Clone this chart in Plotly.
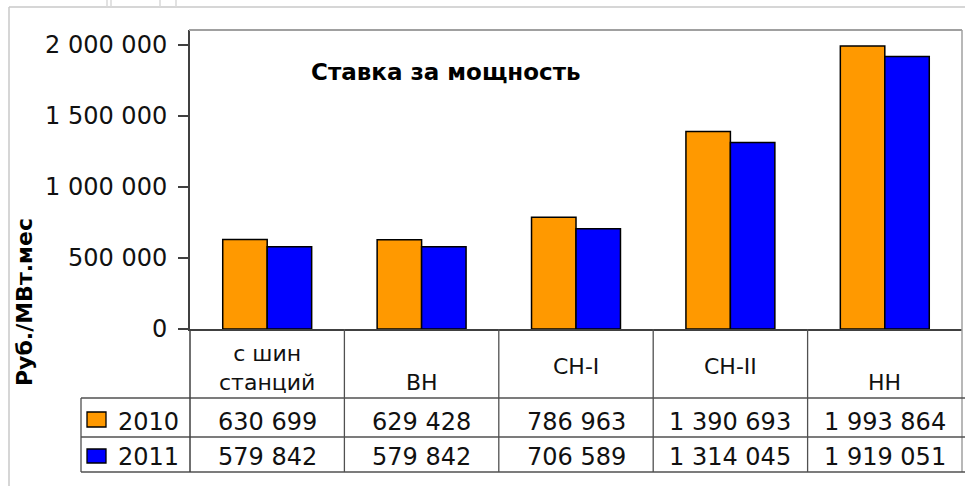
import plotly.graph_objects as go

# ---- data ----
categories = ["с шин<br>станций", "ВН", "СН-I", "СН-II", "НН"]
series_names = ["2010", "2011"]
values_2010 = [630699, 629428, 786963, 1390693, 1993864]
values_2011 = [579842, 579842, 706589, 1314045, 1919051]
y_tick_values = [0, 500000, 1000000, 1500000, 2000000]
chart_title = "Ставка за мощность"
y_title = "Руб./МВт.мес"

# ---- style / layout ----
W, H = 965, 486
colors = ["#FF9900", "#0000FF"]
FONT = "DejaVu Sans"
header_y = [368, 382, 366, 366, 382]   # vertical placement of header labels (px)


def px(x):
    return x / W


def py(y):
    return 1 - y / H


def fmt(v):
    return f"{v:,}".replace(",", " ")


x_idx = list(range(len(categories)))

fig = go.Figure()
for name, vals, col in zip(series_names, [values_2010, values_2011], colors):
    fig.add_trace(go.Bar(
        x=x_idx, y=vals, name=name,
        marker=dict(color=col, line=dict(color="#000000", width=1.5)),
        showlegend=False, hoverinfo="x+y",
    ))

shapes = []
annotations = []


def hline(y, x0, x1, color="#505050", width=1.3):
    shapes.append(dict(type="line", xref="paper", yref="paper",
                       x0=px(x0), x1=px(x1), y0=py(y), y1=py(y),
                       line=dict(color=color, width=width)))


def vline(x, y0, y1, color="#505050", width=1.3):
    shapes.append(dict(type="line", xref="paper", yref="paper",
                       x0=px(x), x1=px(x), y0=py(y0), y1=py(y1),
                       line=dict(color=color, width=width)))


# outer chart frame (light grey)
hline(7, 9, 965, color="#c8c8c8", width=1.5)
vline(9, 7, 486, color="#c8c8c8", width=1.5)
# faint background artefacts at the very top
for xx in [107, 111, 160, 176]:
    vline(xx, 0, 7, color="#d8d8d8", width=1.5)

# plot area border (top / right, grey)
hline(30, 189, 962, color="#a0a0a0", width=2)
vline(962, 30, 472, color="#a0a0a0", width=1.5)

# data table lines
hline(398, 81, 965)
hline(437, 81, 965)
hline(472, 81, 965)
vline(81, 398, 472)
vline(190, 329, 472, color="#404040", width=1.5)
for i in range(1, len(categories)):
    shapes.append(dict(type="line", xref="x", yref="paper",
                       x0=i - 0.5, x1=i - 0.5, y0=py(329), y1=py(472),
                       line=dict(color="#505050", width=1.3)))

# legend keys in table
key_rows = [(412, 427), (449, 463)]
for (y0, y1), col in zip(key_rows, colors):
    shapes.append(dict(type="rect", xref="paper", yref="paper",
                       x0=px(87), x1=px(106), y0=py(y1), y1=py(y0),
                       fillcolor=col, line=dict(color="#000000", width=1.3)))

row_y = [422, 457]
for name, yy in zip(series_names, row_y):
    annotations.append(dict(xref="paper", yref="paper", x=px(116), y=py(yy),
                            text=name, showarrow=False, xanchor="left", yanchor="middle",
                            font=dict(family=FONT, size=24, color="#111111")))

# category header labels
for i, lab in enumerate(categories):
    annotations.append(dict(xref="x", yref="paper", x=i, y=py(header_y[i]),
                            text=lab, showarrow=False, xanchor="center", yanchor="middle",
                            font=dict(family=FONT, size=22, color="#111111")))

# table values
for vals, yy in zip([values_2010, values_2011], row_y):
    for i, v in enumerate(vals):
        annotations.append(dict(xref="x", yref="paper", x=i, y=py(yy),
                                text=fmt(v), showarrow=False, xanchor="center", yanchor="middle",
                                font=dict(family=FONT, size=24, color="#111111")))

# title inside plot area
annotations.append(dict(xref="paper", yref="paper", x=px(446), y=py(72),
                        text=f"<b>{chart_title}</b>", showarrow=False,
                        xanchor="center", yanchor="middle",
                        font=dict(family=FONT, size=23, color="#000000")))

# y axis title
annotations.append(dict(xref="paper", yref="paper", x=px(24), y=py(302),
                        text=f"<b>{y_title}</b>", showarrow=False, textangle=-90,
                        xanchor="center", yanchor="middle",
                        font=dict(family=FONT, size=22, color="#000000")))

fig.update_layout(
    width=W, height=H, autosize=False,
    margin=dict(l=0, r=0, t=0, b=0, pad=0),
    paper_bgcolor="#ffffff", plot_bgcolor="#ffffff",
    separators=". ",
    barmode="group", bargap=0.424, bargroupgap=0,
    xaxis=dict(domain=[px(190), px(962)], range=[-0.5, len(categories) - 0.5],
               showticklabels=False, ticks="", showgrid=False, zeroline=False,
               automargin=False,
               showline=True, linecolor="#404040", linewidth=1.5, fixedrange=True),
    yaxis=dict(domain=[py(329), py(30)], range=[0, 2106000],
               tickvals=y_tick_values, tickformat=",d",
               ticks="outside", ticklen=10, tickwidth=1.5, tickcolor="#404040",
               ticklabelstandoff=6, automargin=False,
               tickfont=dict(family=FONT, size=24, color="#111111"),
               showgrid=False, zeroline=False,
               showline=True, linecolor="#404040", linewidth=2, fixedrange=True),
    shapes=shapes, annotations=annotations,
)

fig.write_html(
    "out.html",
    config={"displayModeBar": False},
    post_script="document.body.style.margin='0';document.body.style.overflow='hidden';",
)
